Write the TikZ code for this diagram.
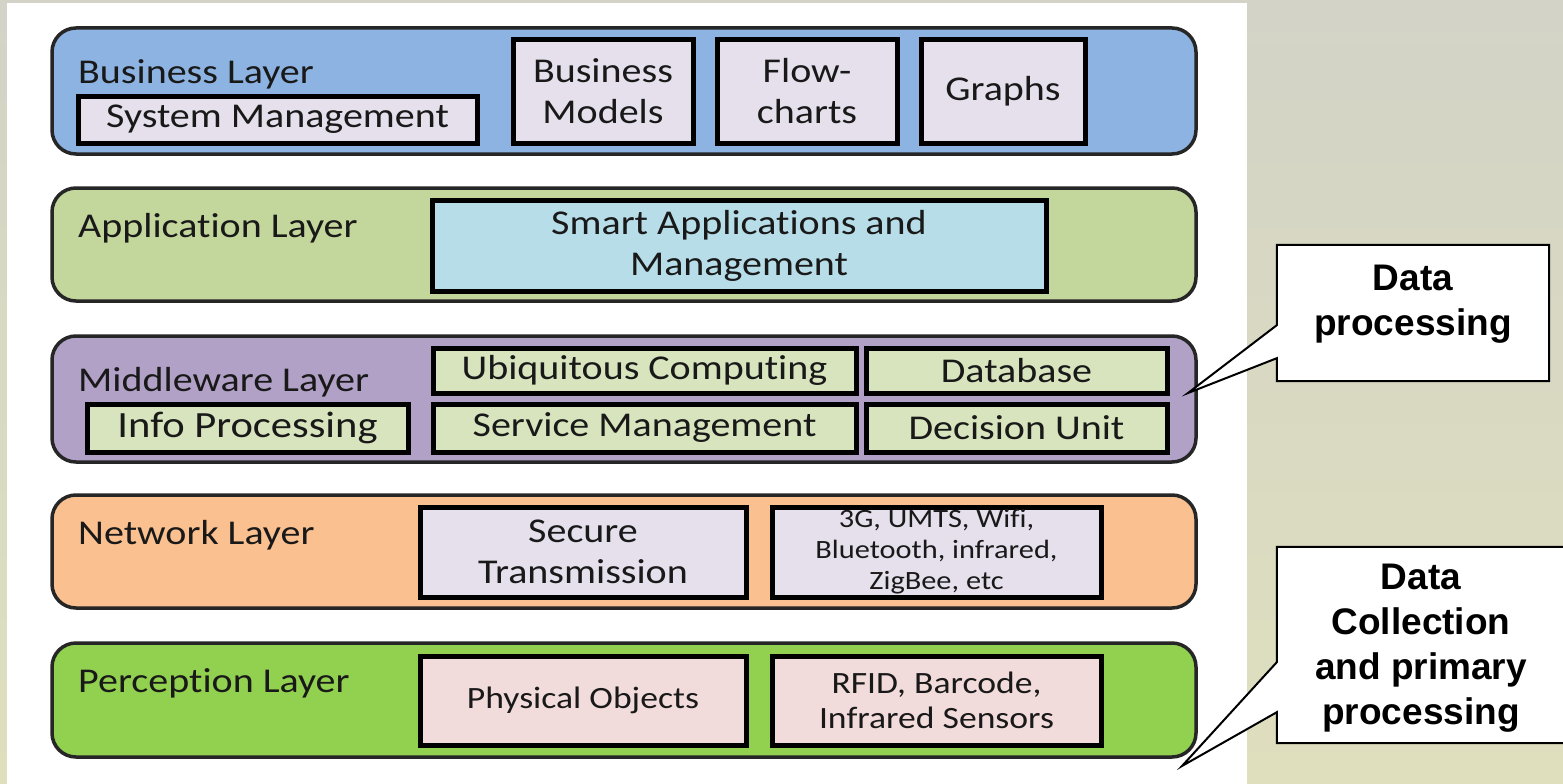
\documentclass[tikz,border=0pt]{standalone}
\usepackage{fontspec}
\setmainfont{Carlito}[FakeStretch=1.15, Ligatures={NoCommon,NoContextual,NoRare}]
\newfontfamily\calloutfont{Liberation Sans}
\usepackage{xcolor}
\definecolor{bgTop}{RGB}{211,211,199}
\definecolor{bgBottom}{RGB}{223,223,190}
\definecolor{busBlue}{HTML}{8DB3E2}
\definecolor{appGreen}{HTML}{C3D69B}
\definecolor{midPurple}{HTML}{B2A1C7}
\definecolor{netOrange}{HTML}{FAC090}
\definecolor{perGreen}{HTML}{92D050}
\definecolor{boxLilac}{HTML}{E5E0EC}
\definecolor{boxCyan}{HTML}{B7DDE8}
\definecolor{boxOlive}{HTML}{D7E4BD}
\definecolor{boxPink}{HTML}{F2DCDB}

\begin{document}
\begin{tikzpicture}[x=1pt, y=-1pt, font=\fontsize{34.8}{41}\selectfont,
    layer/.style={draw=black!85, line width=3.5pt, rounded corners=24pt, minimum width=1144pt, inner sep=0pt},
    title/.style={anchor=base west, inner sep=0pt, text=black!90},
    ibox/.style={draw=black, line width=5pt, inner sep=0pt, align=center, text=black!90},
    callout/.style={draw=black, line width=2pt, fill=white, line join=miter},
    callouttext/.style={anchor=north, inner sep=0pt, align=center, font=\calloutfont\bfseries\fontsize{37}{45}\selectfont}]
    \newcommand\layerx{624}
    \newcommand\tx{78}

    \useasboundingbox (0,0) rectangle (1563,784);
    \shade[top color=bgTop, bottom color=bgBottom] (0,0) rectangle (1563,784);
    \fill[white] (7,3) rectangle (1247,785);

    % layers
    \node[layer, fill=busBlue, minimum height=126pt] (business) at (\layerx,91) {};
    \node[layer, fill=appGreen, minimum height=113pt] (application) at (\layerx,244.5) {};
    \node[layer, fill=midPurple, minimum height=126pt] (middleware) at (\layerx,399) {};
    \node[layer, fill=netOrange, minimum height=113pt] (network) at (\layerx,551.5) {};
    \node[layer, fill=perGreen, minimum height=114pt] (perception) at (\layerx,700) {};

    \node[title] (businesstitle) at (\tx,83) {Business Layer};
    \node[title] (applicationtitle) at (\tx,237) {Application Layer};
    \node[title] (middlewaretitle) at (\tx,391) {Middleware Layer};
    \node[title] (networktitle) at (\tx,544) {Network Layer};
    \node[title] (perceptiontitle) at (\tx,692) {Perception Layer};

    % business layer
    \node[ibox, fill=boxLilac, minimum width=399pt, minimum height=47pt] (sysmgmt) at (277.5,119.5) {System Management};
    \node[ibox, fill=boxLilac, minimum width=180pt, minimum height=103pt] (bmodels) at (603,91.5) {Business\\Models};
    \node[ibox, fill=boxLilac, minimum width=180pt, minimum height=103pt] (flowcharts) at (807,91.5) {Flow-\\charts};
    \node[ibox, fill=boxLilac, minimum width=164pt, minimum height=103pt] (graphs) at (1003,91.5) {Graphs};

    % application layer
    \node[ibox, fill=boxCyan, minimum width=614pt, minimum height=91pt] (smartapp) at (739,245.5) {Smart Applications and\\Management};

    % middleware layer
    \node[ibox, fill=boxOlive, minimum width=423pt, minimum height=45pt] (ubiq) at (644.5,370.5) {Ubiquitous Computing};
    \node[ibox, fill=boxOlive, minimum width=301pt, minimum height=45pt] (database) at (1016.5,370.5) {Database};
    \node[ibox, fill=boxOlive, minimum width=321pt, minimum height=48pt, font=\fontsize{37}{41}\selectfont] (infoproc) at (247.5,428) {Info Processing};
    \node[ibox, fill=boxOlive, minimum width=423pt, minimum height=48pt] (servmgmt) at (644.5,428) {Service Management};
    \node[ibox, fill=boxOlive, minimum width=301pt, minimum height=48pt] (decision) at (1016.5,428) {Decision Unit};

    % network layer
    \node[ibox, fill=boxLilac, minimum width=326pt, minimum height=90pt] (secure) at (583,552) {Secure\\Transmission};
    \node[ibox, fill=boxLilac, minimum width=329pt, minimum height=90pt, font=\fontsize{26.4}{31}\selectfont] (wireless) at (936.5,552) {3G, UMTS, Wifi,\\Bluetooth, infrared,\\ZigBee, etc};

    % perception layer
    \node[ibox, fill=boxPink, minimum width=326pt, minimum height=89pt, font=\fontsize{31}{35}\selectfont] (physical) at (583,700.5) {Physical Objects};
    \node[ibox, fill=boxPink, minimum width=329pt, minimum height=89pt, font=\fontsize{31}{35}\selectfont] (rfid) at (936.5,700.5) {RFID, Barcode,\\Infrared Sensors};

    % callouts
    \coordinate (dptip) at (1188,393);
    \coordinate (dctip) at (1182,766);
    \node[minimum width=272pt, minimum height=136pt, inner sep=0pt] (dp) at (1413,313) {};
    \node[minimum width=288pt, minimum height=196pt, inner sep=0pt] (dc) at (1421,645) {};
    \draw[callout] (dp.north west) -- (dp.north east) -- (dp.south east) -- (dp.south west)
        -- ([yshift=23pt]dp.south west) -- (dptip) -- ([yshift=56pt]dp.south west) -- cycle;
    \draw[callout] (dc.north west) -- (dc.north east) -- (dc.south east) -- (dc.south west)
        -- ([yshift=31pt]dc.south west) -- (dctip) -- ([yshift=81pt]dc.south west) -- cycle;
    \node[callouttext] (dptext) at ([yshift=-20pt]dp.north) {Data\\processing};
    \node[callouttext] (dctext) at ([yshift=-17pt]dc.north) {Data\\Collection\\and primary\\processing};
\end{tikzpicture}
\end{document}
